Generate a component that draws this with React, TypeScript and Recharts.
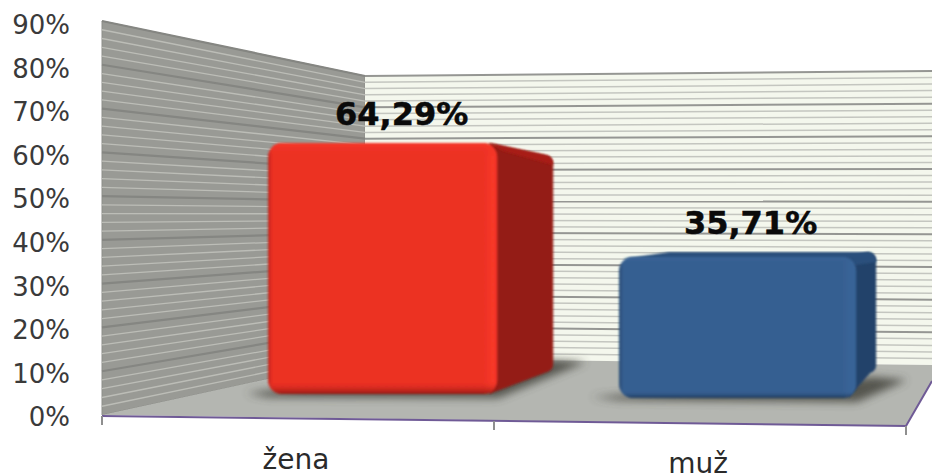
import React from 'react';
import { BarChart, Bar, XAxis, YAxis, LabelList, Customized } from 'recharts';

const categories = ['žena', 'muž'];
const shares = [64.29, 35.71];
const valueTicks = [0, 10, 20, 30, 40, 50, 60, 70, 80, 90];
const minorTicks = [2, 4, 6, 8, 12, 14, 16, 18, 22, 24, 26, 28, 32, 34, 36, 38, 42, 44, 46, 48, 52, 54, 56, 58, 62, 64, 66, 68, 72, 74, 76, 78, 82, 84, 86, 88];

const chartData = categories.map((name, i) => ({ name, value: shares[i] }));

const W = 932;
const H = 475;

// perspective layout of the fake 3D box within each category band
const boxes = [
  { left: 0.413, width: 0.57, hK: 0.896, drop: 23, dx: 56, dyTop: 12, dyBot: 22, labelDx: 19, base: '#ec3024', side: '#941d14', top: '#a81f16', light: '#f73829', dark: '#8a1a12', shadow: [[-22, -1], [0, 3], [230, 4], [318, -32], [285, -34]] },
  { left: 0.286, width: 0.59, hK: 0.907, drop: 19, dx: 20, dyTop: -5, dyBot: 25, labelDx: 13, base: '#365f91', side: '#23436b', top: '#2a4f7c', light: '#3a6598', dark: '#1b3352', shadow: [[-28, -1], [0, 2], [238, 4], [288, -18], [255, -21]] },
];

const lerp = (a: number, b: number, t: number) => a + (b - a) * t;

const leftWallLine = (v: number) => ({
  x1: 102,
  y1: lerp(415, 21, v / 90),
  x2: 365,
  y2: lerp(358, 76, v / 90),
});
const backWallLine = (v: number) => ({
  x1: 365,
  y1: lerp(358, 76, v / 90),
  x2: 932,
  y2: lerp(365, 71, v / 90),
});

function Room() {
  return (
    <g>
      <polygon points="102,415 102,21 365,76 365,358" fill="#999a95" stroke="#8c8d88" strokeWidth={1} />
      <polygon points="365,76 932,71 932,365 365,358" fill="#f4f7ed" />
      {minorTicks.map((v) => (
        <g key={v}>
          <line {...leftWallLine(v)} stroke="#bcbdb7" strokeWidth={1.3} />
          <line {...backWallLine(v)} stroke="#c4c6c0" strokeWidth={1.5} />
        </g>
      ))}
      {valueTicks.slice(1).map((v) => (
        <g key={v}>
          <line {...leftWallLine(v)} stroke="#858682" strokeWidth={2.2} />
          <line {...backWallLine(v)} stroke="#959693" strokeWidth={2} />
        </g>
      ))}
      <polygon points="102,415 365,358 932,365 932,381 906,426" fill="#b4b6b1" />
      <polyline points="102,416 906,426 932,381" fill="none" stroke="#6f5a96" strokeWidth={2} />
      <g stroke="#8f8f8f" strokeWidth={2}>
        <line x1={102} y1={416} x2={102} y2={425} />
        <line x1={494} y1={421} x2={494} y2={430} />
        <line x1={906} y1={426} x2={906} y2={435} />
      </g>
      <defs>
        <filter id="soft" x="-30%" y="-60%" width="160%" height="220%">
          <feGaussianBlur stdDeviation="4" />
        </filter>
        <filter id="edge" x="-5%" y="-5%" width="110%" height="110%">
          <feGaussianBlur stdDeviation="0.8" />
        </filter>
      </defs>
    </g>
  );
}

function Box3D(props: any) {
  const { x, y, width, height, index } = props;
  const b = boxes[index];
  const bottom = y + height - b.drop;
  const fh = height * b.hK;
  const fy = bottom - fh;
  const fx = x + width * b.left;
  const fw = width * b.width;
  const rx = fx + fw;
  const sidePath = `M${rx - 8},${fy} L${rx + b.dx - 8},${fy + b.dyTop} Q${rx + b.dx},${fy + b.dyTop + 1} ${rx + b.dx},${fy + b.dyTop + 10} L${rx + b.dx},${bottom - b.dyBot - 8} Q${rx + b.dx},${bottom - b.dyBot - 2} ${rx + b.dx - 6},${bottom - b.dyBot} L${rx - 8},${bottom} Z`;
  const topPath = index === 1
    ? `M${fx + 4},${fy + 2} L${fx + 50},${fy + b.dyTop} L${rx + b.dx - 10},${fy + b.dyTop} Q${rx + b.dx},${fy + b.dyTop} ${rx + b.dx},${fy + b.dyTop + 10} L${rx},${fy + 8} Z`
    : `M${rx - 8},${fy} L${rx + b.dx - 8},${fy + b.dyTop} Q${rx + b.dx},${fy + b.dyTop + 1} ${rx + b.dx},${fy + b.dyTop + 10} L${rx + 6},${fy + 8} Z`;
  const shadow = b.shadow.map(([dx, dy]) => `${fx + dx},${bottom + dy}`).join(' ');
  return (
    <g>
      <defs>
        <linearGradient id={`h${index}`} x1="0" x2="1" y1="0" y2="0">
          <stop offset="0" stopColor={b.dark} stopOpacity={0.55} />
          <stop offset="0.025" stopColor={b.base} stopOpacity={0} />
          <stop offset="0.94" stopColor={b.light} stopOpacity={0} />
          <stop offset="0.98" stopColor={b.light} stopOpacity={1} />
          <stop offset="1" stopColor={b.light} stopOpacity={0.6} />
        </linearGradient>
        <linearGradient id={`v${index}`} x1="0" x2="0" y1="0" y2="1">
          <stop offset="0" stopColor={b.light} stopOpacity={1} />
          <stop offset="0.05" stopColor={b.base} stopOpacity={0} />
          <stop offset="0.95" stopColor={b.base} stopOpacity={0} />
          <stop offset="1" stopColor={b.dark} stopOpacity={0.9} />
        </linearGradient>
      </defs>
      <polygon points={shadow} fill="#44443e" opacity={0.85} filter="url(#soft)" />
      <path d={sidePath} fill={b.side} filter="url(#edge)" />
      <path d={topPath} fill={b.top} filter="url(#edge)" />
      <g filter="url(#edge)">
        <rect x={fx} y={fy} width={fw} height={fh} rx={14} fill={b.base} />
        <rect x={fx} y={fy} width={fw} height={fh} rx={14} fill={`url(#h${index})`} />
        <rect x={fx} y={fy} width={fw} height={fh} rx={14} fill={`url(#v${index})`} />
      </g>
    </g>
  );
}

function ShareLabel(props: any) {
  const { x, y, width, height, index, value } = props;
  const b = boxes[index];
  const fh = height * b.hK;
  const fy = y + height - b.drop - fh;
  const cx = x + width * (b.left + b.width / 2) + b.labelDx;
  const top = fy + Math.min(b.dyTop, 0);
  return (
    <text
      x={cx}
      y={top - 29}
      textAnchor="middle"
      dominantBaseline="central"
      fontFamily="DejaVu Sans"
      fontWeight={700}
      fontSize={32}
      fill="#0a0a0a"
      stroke="#0a0a0a"
      strokeWidth={0.5}
    >
      {String(value).replace('.', ',') + '%'}
    </text>
  );
}

function CategoryTick(props: any) {
  const { x, y, payload, index } = props;
  return (
    <text
      x={x - 7}
      y={y + 34 + index * 4}
      textAnchor="middle"
      dominantBaseline="central"
      fontFamily="DejaVu Sans"
      fontSize={28}
      fill="#2a2a2a"
    >
      {payload.value}
    </text>
  );
}

export default function App() {
  return (
    <div style={{ position: 'absolute', left: 0, top: 0, width: W, height: H, background: '#fff' }}>
      <BarChart
        width={W}
        height={H}
        data={chartData}
        margin={{ top: 25, right: 26, bottom: 0, left: 0 }}
        barCategoryGap={0}
      >
        <Customized component={Room} />
        <XAxis
          dataKey="name"
          axisLine={false}
          tickLine={false}
          height={58}
          interval={0}
          tick={<CategoryTick />}
        />
        <YAxis
          width={102}
          domain={[0, 90]}
          ticks={valueTicks}
          interval={0}
          axisLine={false}
          tickLine={false}
          tickSize={0}
          tickMargin={32}
          tickFormatter={(v: number) => `${v}%`}
          tick={{ fontFamily: 'DejaVu Sans', fontSize: 26, fill: '#3a3a3a' }}
        />
        <Bar dataKey="value" isAnimationActive={false} shape={<Box3D />}>
          <LabelList dataKey="value" content={<ShareLabel />} />
        </Bar>
      </BarChart>
    </div>
  );
}
